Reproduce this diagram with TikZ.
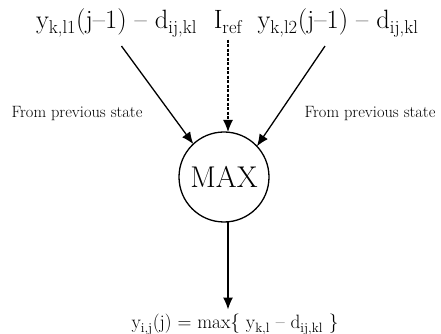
\documentclass[tikz,border=0pt]{standalone}
\usepackage{tikz}
\usetikzlibrary{arrows.meta}

\begin{document}
\begin{tikzpicture}[x=1pt, y=1pt, >={Latex[length=12pt,width=10pt]}, line width=1.3pt,
    every node/.style={inner sep=0pt, outer sep=0pt},
    bigtext/.style={font=\fontsize{26.5}{30}\selectfont, anchor=base},
    sidetext/.style={font=\fontsize{16.4}{19}\selectfont, anchor=base}]

        \useasboundingbox (0,0) rectangle (441,334);

        % GIRISLER
        \node[bigtext] (ykl1) at (116.5, 305) {y\textsubscript{k,l1}(j--1) -- d\textsubscript{ij,kl}};
        \node[bigtext] (iref) at (228, 305) {I\textsubscript{ref}};
        \node[bigtext] (ykl2) at (338, 305) {y\textsubscript{k,l2}(j--1) -- d\textsubscript{ij,kl}};

        \node[sidetext] (prev1) at (77, 216) {From previous state};
        \node[sidetext] (prev2) at (370, 216) {From previous state};

        % MAX DUGUMU
        \node[draw, circle, minimum size=90pt, font=\fontsize{30}{33}\selectfont] (maxnode) at (224, 157) {MAX};

        % CIKIS
        \node[font=\fontsize{19.3}{22}\selectfont, anchor=base] (result) at (235, 5) {y\textsubscript{i,j}(j) = max\{ y\textsubscript{k,l} -- d\textsubscript{ij,kl} \}};

        % Oklar
        \draw[->] ([xshift=5pt, yshift=-9pt]ykl1.south) -- (maxnode.133);
        \draw[->, dashed, dash pattern=on 3pt off 1.5pt] ([yshift=-6pt]iref.south) -- (maxnode.north -| iref.south);
        \draw[->] ([xshift=-13pt, yshift=-9pt]ykl2.south) -- (maxnode.43);
        \draw[->] (maxnode.south -| iref.south) -- ([yshift=5pt]result.north -| iref.south);
    \end{tikzpicture}
\end{document}
